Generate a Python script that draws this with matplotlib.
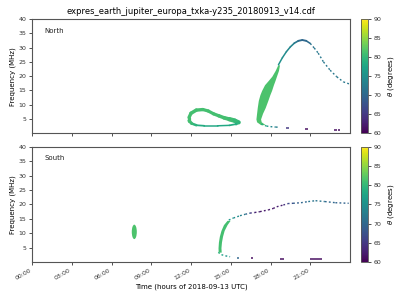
import numpy as np
import matplotlib
matplotlib.use("Agg")
import matplotlib.pyplot as plt
from matplotlib.collections import LineCollection
from matplotlib.patches import Ellipse
from matplotlib.cm import ScalarMappable
from matplotlib.colors import Normalize

# ---------------------------------------------------------------------------
# Values (time in hours, frequency in MHz, theta in deg)
# ---------------------------------------------------------------------------
TITLE = "expres_earth_jupiter_europa_txka-y235_20180913_v14.cdf"
HOUR_TICKS = [0, 3, 6, 9, 12, 15, 18, 21]
HOUR_LABELS = ["00:00", "03:00", "06:00", "09:00", "12:00", "15:00", "18:00", "21:00"]
FREQ_TICKS = [5, 10, 15, 20, 25, 30, 35, 40]
THETA_TICKS = [60, 65, 70, 75, 80, 85, 90]

# North: closed loop around 12-16 h
N_LOOP_T = [11.85, 12.0, 12.4, 12.9, 13.3, 13.7, 14.1, 14.5, 14.9, 15.3, 15.6,
            15.4, 14.9, 14.0, 13.0, 12.4, 12.05, 11.85, 11.85]
N_LOOP_F = [5.5, 7.0, 8.1, 8.3, 7.8, 6.8, 6.1, 5.4, 4.9, 4.4, 3.8,
            3.2, 2.75, 2.6, 2.6, 2.8, 3.4, 4.4, 5.5]
N_LOOP_TH = [81, 81, 81, 81, 81, 81, 81, 81, 81, 80.5, 80,
             79, 78, 78, 78, 79, 80, 81, 81]
N_LOOP_W = [3.2, 3.5, 3.5, 3.2, 3.2, 3.2, 3.4, 3.6, 4.0, 5.0, 3.5,
            2.0, 1.5, 1.5, 1.5, 2.0, 3.0, 3.2, 3.2]

# North: broad rising limb (frequency as the running variable)
N_LIMB_F = [3.0, 4.0, 5.0, 7.0, 9.0, 11.5, 13.5, 15.0, 17.0, 18.5, 20.0, 22.0, 24.0]
N_LIMB_T0 = [17.25, 16.95, 16.9, 16.95, 17.0, 17.08, 17.2, 17.33, 17.55, 17.83, 18.1, 18.35, 18.55]
N_LIMB_T1 = [17.6, 17.3, 17.25, 17.4, 17.6, 17.8, 17.95, 18.08, 18.22, 18.34, 18.45, 18.6, 18.68]
N_LIMB_TH = 81.5

# North: thin arc, rising part (nearly continuous) and falling tail (dotted)
N_RISE_T = [18.6, 18.9, 19.2, 19.5, 19.8, 20.1, 20.4, 20.7, 21.0]
N_RISE_F = [24.0, 26.5, 28.6, 30.3, 31.6, 32.4, 32.7, 32.4, 31.5]
N_RISE_TH = [75, 75, 74, 74, 73, 71, 70, 70, 71]
N_RISE_W = [1.5, 1.5, 1.5, 1.6, 1.6, 1.8, 2.0, 1.8, 1.4]

N_TAIL_T = [21.0, 21.3, 21.6, 22.0, 22.5, 23.0, 23.5, 24.0]
N_TAIL_F = [31.5, 29.9, 28.1, 25.0, 22.1, 19.8, 18.0, 17.2]
N_TAIL_TH = [71, 72, 72, 72, 72, 72, 72, 72]

# North: low hook at the foot of the limb
N_HOOK_T = [17.3, 17.7, 18.0, 18.4, 18.6]
N_HOOK_F = [3.2, 2.5, 2.3, 2.15, 2.1]
N_HOOK_TH = [80, 77, 75, 73, 72]

# North: short low-frequency dashes (t start, t end, f, theta)
N_DASH_T0 = [19.2, 20.6, 22.8, 23.1]
N_DASH_T1 = [19.4, 20.8, 23.0, 23.25]
N_DASH_F = [1.85, 1.4, 1.05, 1.05]
N_DASH_TH = [65, 61, 61, 61]

# South: isolated blob near 07:45
S_BLOB_T, S_BLOB_F = 7.72, 10.5
S_BLOB_DT, S_BLOB_DF = 0.38, 5.0
S_BLOB_TH = 81.5

# South: broad lower part of the arc
S_BAND_F = [3.5, 5.0, 7.0, 9.0, 11.0, 13.0, 14.5]
S_BAND_T0 = [14.05, 14.04, 14.07, 14.14, 14.26, 14.45, 14.72]
S_BAND_T1 = [14.28, 14.26, 14.3, 14.38, 14.5, 14.72, 14.95]
S_BAND_TH = 81

# South: thin upper arc
S_ARC_T = [14.85, 15.2, 15.7, 16.1, 16.45, 16.8, 17.2, 17.5, 17.83, 18.2, 18.47,
           18.97, 19.3, 19.7, 20.3, 20.85, 21.4, 22.1, 22.9, 23.9]
S_ARC_F = [14.6, 15.3, 16.1, 16.6, 17.0, 17.2, 17.5, 17.8, 18.1, 18.6, 19.2,
           19.8, 20.3, 20.4, 20.6, 21.0, 21.3, 21.0, 20.6, 20.4]
S_ARC_TH = [77, 75, 74, 72, 67, 63, 62, 62, 62, 62, 62,
            63, 66, 68, 70, 70, 73, 70, 70, 69]

# South: low hook below the band
S_HOOK_T = [14.06, 14.3, 14.6, 14.95]
S_HOOK_F = [3.4, 2.6, 2.2, 1.9]
S_HOOK_TH = [80, 78, 76, 75]

S_DASH_T0 = [15.5, 16.5, 18.7, 21.0]
S_DASH_T1 = [15.65, 16.7, 19.0, 21.9]
S_DASH_F = [1.6, 1.4, 1.0, 1.0]
S_DASH_TH = [70, 61, 61, 61]

CMAP = plt.get_cmap("viridis")
NORM = Normalize(60, 90)
PX = 0.72  # one pixel in points at dpi 100


def add_trace(ax, t, f, theta, width_px, dotted=False):
    pts = np.column_stack([t, f])
    segs = np.stack([pts[:-1], pts[1:]], axis=1)
    th = np.asarray(theta, float)
    th = (th[:-1] + th[1:]) / 2
    w = np.broadcast_to(np.asarray(width_px, float), (len(t),))
    w = (w[:-1] + w[1:]) / 2 * PX
    if dotted:
        lc = LineCollection(segs, cmap=CMAP, norm=NORM, linewidths=w,
                            linestyles=[(0, (1.3, 1.6))], capstyle="butt")
    else:
        lc = LineCollection(segs, cmap=CMAP, norm=NORM, linewidths=w,
                            capstyle="round", joinstyle="round")
    lc.set_array(th)
    ax.add_collection(lc)


def add_dashes(ax, t0, t1, f, theta):
    ax.hlines(f, t0, t1, colors=CMAP(NORM(np.asarray(theta))), lw=1.5 * PX)


def style_axis(ax, label):
    ax.set_xlim(0, 24)
    ax.set_ylim(0, 40)
    ax.set_yticks(FREQ_TICKS)
    ax.set_xticks(HOUR_TICKS)
    ax.set_ylabel("Frequency (MHz)", fontsize=5, labelpad=2)
    ax.tick_params(labelsize=4.5, length=2.5, width=0.6, pad=1.5, colors="#333333")
    for sp in ax.spines.values():
        sp.set_color("#555555")
        sp.set_linewidth(0.8)
    ax.text(0.04, 0.9, label, transform=ax.transAxes, fontsize=5, va="center",
            color="#222222")


fig = plt.figure(figsize=(4, 3), dpi=100)
ax_n = fig.add_axes([0.08, 0.556, 0.795, 0.38])
ax_s = fig.add_axes([0.08, 0.126, 0.795, 0.385], sharex=ax_n)
cax_n = fig.add_axes([0.9025, 0.556, 0.0175, 0.38])
cax_s = fig.add_axes([0.9025, 0.126, 0.0175, 0.385])

# North panel
add_trace(ax_n, N_LOOP_T, N_LOOP_F, N_LOOP_TH, N_LOOP_W)
ax_n.fill_betweenx(N_LIMB_F, N_LIMB_T0, N_LIMB_T1, color=CMAP(NORM(N_LIMB_TH)), lw=0)
add_trace(ax_n, N_RISE_T, N_RISE_F, N_RISE_TH, N_RISE_W)
add_trace(ax_n, N_TAIL_T, N_TAIL_F, N_TAIL_TH, 1.4, dotted=True)
add_trace(ax_n, N_HOOK_T, N_HOOK_F, N_HOOK_TH, 1.4, dotted=True)
add_dashes(ax_n, N_DASH_T0, N_DASH_T1, N_DASH_F, N_DASH_TH)
style_axis(ax_n, "North")
ax_n.tick_params(labelbottom=False)
ax_n.set_title(TITLE, fontsize=6, pad=4)

# South panel
ax_s.add_patch(Ellipse((S_BLOB_T, S_BLOB_F), S_BLOB_DT, S_BLOB_DF,
                       color=CMAP(NORM(S_BLOB_TH)), lw=0))
ax_s.fill_betweenx(S_BAND_F, S_BAND_T0, S_BAND_T1, color=CMAP(NORM(S_BAND_TH)), lw=0)
add_trace(ax_s, S_ARC_T, S_ARC_F, S_ARC_TH, 1.4, dotted=True)
add_trace(ax_s, S_HOOK_T, S_HOOK_F, S_HOOK_TH, 1.4, dotted=True)
add_dashes(ax_s, S_DASH_T0, S_DASH_T1, S_DASH_F, S_DASH_TH)
style_axis(ax_s, "South")
ax_s.set_xticklabels(HOUR_LABELS, rotation=30, ha="right")
ax_s.set_xlabel("Time (hours of 2018-09-13 UTC)", fontsize=5, labelpad=2)

# Colour bars
for cax in (cax_n, cax_s):
    cb = fig.colorbar(ScalarMappable(norm=NORM, cmap=CMAP), cax=cax, ticks=THETA_TICKS)
    cb.set_label(r"$\theta$ (degrees)", fontsize=5, labelpad=3)
    cb.ax.tick_params(labelsize=4.5, length=2.5, width=0.6, pad=1.5, colors="#333333")
    cb.outline.set_linewidth(0.6)
    cb.outline.set_edgecolor("#555555")

fig.savefig("out.png", dpi=100)
